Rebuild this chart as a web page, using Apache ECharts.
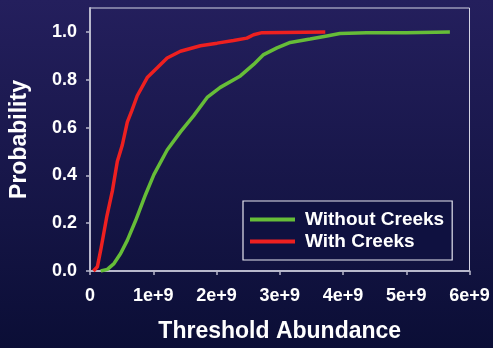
<!DOCTYPE html>
<html>
<head>
<meta charset="utf-8">
<script src="https://cdn.jsdelivr.net/npm/echarts@6/dist/echarts.min.js"></script>
<style>
html,body{margin:0;padding:0;background:#151545;}
#chart{width:493px;height:348px;}
</style>
</head>
<body>
<div id="chart"></div>
<script>
// Data (x in units of abundance, y = cumulative probability)
const withoutX = [0.169e9, 0.274e9, 0.379e9, 0.484e9, 0.59e9, 0.72e9, 0.879e9, 1.01e9, 1.22e9, 1.43e9, 1.64e9, 1.852e9, 2.06e9, 2.377e9, 2.587e9, 2.745e9, 2.956e9, 3.166e9, 3.48e9, 3.745e9, 3.95e9, 4.375e9, 5.0e9, 5.69e9];
const withoutY = [0.0, 0.007, 0.031, 0.073, 0.128, 0.210, 0.320, 0.403, 0.506, 0.582, 0.650, 0.726, 0.768, 0.816, 0.864, 0.905, 0.933, 0.956, 0.970, 0.983, 0.993, 0.996, 0.997, 1.0];
const withX = [0.054e9, 0.117e9, 0.169e9, 0.263e9, 0.353e9, 0.432e9, 0.511e9, 0.59e9, 0.66e9, 0.747e9, 0.905e9, 1.063e9, 1.22e9, 1.43e9, 1.746e9, 2.01e9, 2.27e9, 2.48e9, 2.587e9, 2.72e9, 3.06e9, 3.72e9];
const withY = [0.0, 0.018, 0.087, 0.224, 0.334, 0.458, 0.527, 0.623, 0.670, 0.733, 0.809, 0.850, 0.891, 0.919, 0.942, 0.953, 0.964, 0.974, 0.988, 0.997, 0.998, 1.0];
const seriesNames = ['Without Creeks', 'With Creeks'];
const yTicks = [0, 0.2, 0.4, 0.6, 0.8, 1.0];
const xTicks = [0, 1e9, 2e9, 3e9, 4e9, 5e9, 6e9];
const xTickLabels = ['0', '1e+9', '2e+9', '3e+9', '4e+9', '5e+9', '6e+9'];
const xTitle = 'Threshold Abundance';
const yTitle = 'Probability';

const pairs = (xs, ys) => xs.map((x, i) => [x, ys[i]]);
const FONT = '"Liberation Sans", Arial, sans-serif';
const GREEN = '#66bd38';
const RED = '#ee2020';

const chart = echarts.init(document.getElementById('chart'), null, {renderer: 'canvas'});
chart.setOption({
  animation: false,
  backgroundColor: {
    type: 'linear', x: 0, y: 0, x2: 0, y2: 1,
    colorStops: [{offset: 0, color: '#241f5d'}, {offset: 1, color: '#0b0e36'}]
  },
  textStyle: {fontFamily: FONT},
  grid: {
    left: 89, right: 23.5, top: 8, bottom: 74,
    show: true, borderColor: '#d4d4e4', borderWidth: 1, backgroundColor: 'transparent'
  },
  legend: {
    orient: 'vertical',
    left: 243, top: 201,
    padding: [9, 8, 9, 7],
    itemGap: 3,
    itemWidth: 45, itemHeight: 4,
    borderColor: '#e6e6f0', borderWidth: 1.2,
    backgroundColor: '#0f1140',
    textStyle: {color: '#ffffff', fontSize: 19, fontWeight: 'bold', fontFamily: FONT, padding: [0, 0, 0, 5]},
    data: seriesNames.map(n => ({name: n, icon: 'rect'}))
  },
  xAxis: {
    type: 'value', min: 0, max: 6e9, interval: 1e9,
    name: xTitle, nameLocation: 'middle', nameGap: 49,
    nameTextStyle: {color: '#ffffff', fontSize: 23, fontWeight: 'bold', fontFamily: FONT},
    axisLine: {show: true, lineStyle: {color: '#b8b8cc', width: 2}},
    axisTick: {show: true, length: 4, lineStyle: {color: '#b8b8cc', width: 1.5}, customValues: xTicks},
    splitLine: {show: false},
    axisLabel: {
      color: '#ffffff', fontSize: 18, fontWeight: 'bold', fontFamily: FONT, margin: 16,
      customValues: xTicks,
      formatter: v => xTickLabels[xTicks.indexOf(v)] ?? ''
    }
  },
  yAxis: {
    type: 'value', min: 0, max: 1.1, interval: 0.2,
    name: yTitle, nameLocation: 'middle', nameGap: 59, nameRotate: 90,
    nameTextStyle: {color: '#ffffff', fontSize: 23, fontWeight: 'bold', fontFamily: FONT},
    axisLine: {show: true, lineStyle: {color: '#b8b8cc', width: 2}},
    axisTick: {show: true, length: 4, lineStyle: {color: '#b8b8cc', width: 1.5}, customValues: yTicks},
    splitLine: {show: false},
    axisLabel: {
      color: '#ffffff', fontSize: 18, fontWeight: 'bold', fontFamily: FONT, margin: 13,
      customValues: yTicks,
      formatter: v => v.toFixed(1)
    }
  },
  series: [
    {name: seriesNames[0], type: 'line', data: pairs(withoutX, withoutY), showSymbol: false, symbol: 'none',
     lineStyle: {color: GREEN, width: 3.5}, itemStyle: {color: GREEN}},
    {name: seriesNames[1], type: 'line', data: pairs(withX, withY), showSymbol: false, symbol: 'none',
     lineStyle: {color: RED, width: 3.5}, itemStyle: {color: RED}}
  ]
});
</script>
</body>
</html>
